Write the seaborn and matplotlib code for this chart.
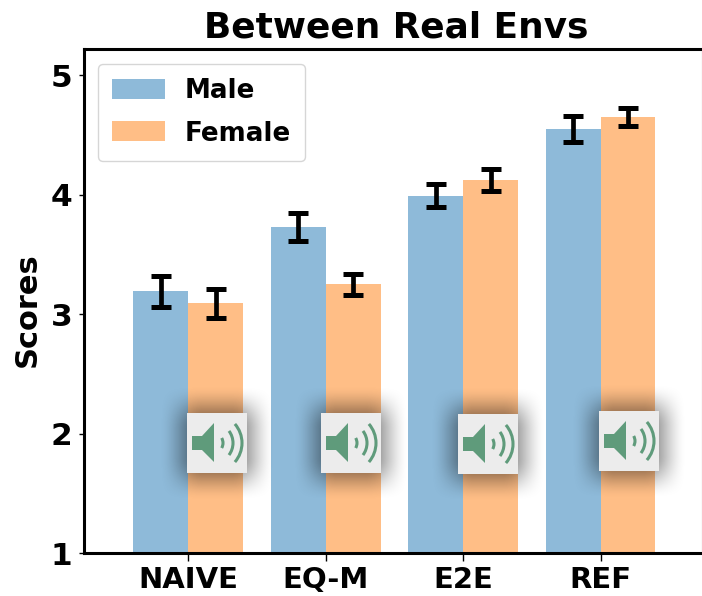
import numpy as np
import pandas as pd
import matplotlib
matplotlib.use("Agg")
import matplotlib.pyplot as plt
from matplotlib.patches import Arc, Polygon, Rectangle
import seaborn as sns

# ---- data ----
methods = ["NAIVE", "EQ-M", "E2E", "REF"]
male_scores = [3.19, 3.73, 3.99, 4.55]
female_scores = [3.09, 3.25, 4.12, 4.65]
male_err = [0.13, 0.117, 0.096, 0.109]
female_err = [0.12, 0.09, 0.092, 0.075]
y_ticks = [1, 2, 3, 4, 5]

W, H = 702, 596
sns.set_theme(style="white")
plt.rcParams["font.family"] = ["DejaVu Sans"]
plt.rcParams["font.weight"] = "bold"
plt.rcParams["text.color"] = "black"
plt.rcParams["axes.labelcolor"] = "black"
plt.rcParams["axes.titlecolor"] = "black"

fig = plt.figure(figsize=(W / 100, H / 100), dpi=100, facecolor="white")
L, R, T, B = 84, 701.5, 49, 553.3
ax = fig.add_axes([L / W, 1 - B / H, (R - L) / W, (B - T) / H])

df = pd.DataFrame({
    "method": methods * 2,
    "score": male_scores + female_scores,
    "gender": ["Male"] * len(methods) + ["Female"] * len(methods),
})
sns.barplot(data=df, x="method", y="score", hue="gender", order=methods,
            hue_order=["Male", "Female"], palette=["#1f77b4", "#ff7f0e"],
            saturation=1, alpha=0.5, width=0.8, gap=0, errorbar=None,
            linewidth=0, edgecolor="none", ax=ax)

for container, vals, errs in zip(ax.containers, (male_scores, female_scores), (male_err, female_err)):
    xs = [b.get_x() + b.get_width() / 2 for b in container]
    ax.errorbar(xs, vals, yerr=errs, fmt="none", ecolor="black",
                elinewidth=3.4, capsize=7.2, capthick=3.6, zorder=5)

ax.set_xlim(-0.76, 3.735)
ax.set_ylim(1, 5.218)
ax.set_yticks(y_ticks)
ax.set_xlabel("")
ax.set_ylabel("Scores", fontsize=22, fontweight="bold", labelpad=6, color="black", y=0.484)
ax.set_title("Between Real Envs", fontsize=25.8, fontweight="bold", pad=8, x=0.506, color="black")
ax.tick_params(axis="x", labelsize=21, length=6, width=1, pad=3.5, bottom=True, colors="black")
ax.tick_params(axis="y", labelsize=22.5, length=3.5, width=1, pad=5, left=True, colors="black")
for s in ax.spines.values():
    s.set_linewidth(2.2)
    s.set_color("black")
ax.spines["right"].set_color("#999999")
ax.spines["right"].set_linewidth(0.8)

leg = ax.legend(loc="upper left", bbox_to_anchor=((98 - L) / (R - L), 1 - (64 - T) / (B - T)),
                frameon=True, framealpha=0.8, edgecolor="#cccccc",
                handlelength=2.0, handleheight=0.8, handletextpad=0.75, labelspacing=0.62,
                borderaxespad=0, borderpad=0.55, title=None,
                prop={"size": 18.8, "weight": "bold"})
for t in leg.get_texts():
    t.set_color("black")

# ---- speaker icons pasted over the chart, in pixel space ----
ov = fig.add_axes([0, 0, 1, 1], facecolor="none")
ov.set_xlim(0, W)
ov.set_ylim(H, 0)
ov.axis("off")
icon_origins = [(187, 413), (321, 413), (458, 414), (599, 411)]
BOX = 60
GREEN = "#5f9b7b"
PAD = 28


def shadow_alpha():
    n = BOX + 2 * PAD
    t = np.arange(n) + 0.5
    ramp = np.clip(np.minimum(t, n - t) / (PAD + 16), 0, 1)
    ramp = ramp * ramp * (3 - 2 * ramp)
    return 0.5 * np.outer(ramp, ramp)


for ox, oy in icon_origins:
    a = shadow_alpha()
    rgba = np.zeros(a.shape + (4,))
    rgba[..., 3] = a
    ov.imshow(rgba, extent=(ox - PAD, ox + BOX + PAD, oy + BOX + PAD, oy - PAD),
              interpolation="bilinear", zorder=1, aspect="auto")
    ov.add_patch(Rectangle((ox, oy), BOX, BOX, fc="#ececec", ec="none", zorder=2))
    ov.add_patch(Polygon([(ox + 5, oy + 23), (ox + 15, oy + 23), (ox + 27, oy + 10),
                          (ox + 27, oy + 49), (ox + 15, oy + 37), (ox + 5, oy + 37)],
                         closed=True, fc=GREEN, ec="none", zorder=3))
    for r, ang in ((10, 30), (20, 37), (29, 41)):
        ov.add_patch(Arc((ox + 26, oy + 30), 2 * r, 2 * r, theta1=-ang, theta2=ang,
                         color=GREEN, lw=2.2, zorder=3))
ov.set_xlim(0, W)
ov.set_ylim(H, 0)

fig.savefig("out.png", dpi=100)
